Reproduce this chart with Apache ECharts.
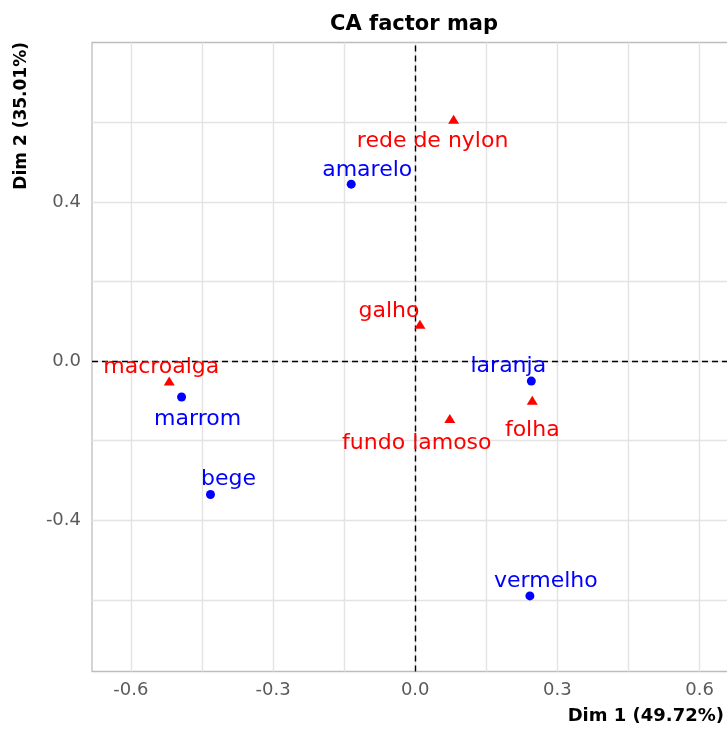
<!DOCTYPE html>
<html><head><meta charset="utf-8">
<script src="https://cdn.jsdelivr.net/npm/echarts@6/dist/echarts.min.js"></script>
<style>html,body{margin:0;padding:0;background:#fff}#main{width:727px;height:729px}</style>
</head><body><div id="main"></div>
<script>
// ---- data ----
const colNames = ['amarelo', 'marrom', 'bege', 'laranja', 'vermelho'];
const colDim1 = [-0.135, -0.493, -0.432, 0.245, 0.242];
const colDim2 = [0.445, -0.090, -0.335, -0.050, -0.590];
const rowNames = ['rede de nylon', 'galho', 'macroalga', 'folha', 'fundo lamoso'];
const rowDim1 = [0.081, 0.010, -0.519, 0.247, 0.073];
const rowDim2 = [0.608, 0.093, -0.050, -0.098, -0.144];
const xTickLabels = [-0.6, -0.3, 0, 0.3, 0.6];
const yTickLabels = [-0.4, 0, 0.4];
const xGridValues = [-0.6, -0.45, -0.3, -0.15, 0, 0.15, 0.3, 0.45, 0.6];
const yGridValues = [-0.6, -0.4, -0.2, 0, 0.2, 0.4, 0.6];
const xRange = [-0.682, 0.66];
const yRange = [-0.78, 0.801];
const chartTitle = 'CA factor map';
const xName = 'Dim 1 (49.72%)';
const yName = 'Dim 2 (35.01%)';

// ---- layout / style ----
const labelOffset = {
  'amarelo': [16, -14], 'marrom': [16, 22], 'bege': [18, -15], 'laranja': [-23, -15],
  'vermelho': [16, -15], 'rede de nylon': [-21, 22], 'galho': [-31, -13],
  'macroalga': [-8, -14], 'folha': [0, 30], 'fundo lamoso': [-33, 25]
};
const labelFont = 'DejaVu Sans';
const tickStyle = { fontFamily: 'DejaVu Sans', fontSize: 18, color: '#5a5a5a' };

const chart = echarts.init(document.getElementById('main'), null, { renderer: 'canvas' });

function pts(names, d1, d2) {
  return names.map((n, i) => ({ name: n, value: [d1[i], d2[i]], label: { offset: labelOffset[n] } }));
}

const option = {
  animation: false,
  backgroundColor: '#ffffff',
  title: {
    text: chartTitle, left: 409, top: 9, textAlign: 'center',
    textStyle: { fontFamily: 'DejaVu Sans', fontWeight: 'bold', fontSize: 21, color: '#000' }
  },
  grid: {
    show: true, left: 92, top: 42.5, width: 636, height: 629,
    borderColor: '#BDBDBD', borderWidth: 1.3, backgroundColor: '#fff',
    containLabel: false, outerBoundsMode: 'none'
  },
  xAxis: {
    type: 'value', min: xRange[0], max: xRange[1],
    axisLine: { show: false }, splitLine: { show: false },
    axisTick: { show: true, customValues: xTickLabels, length: 5, lineStyle: { color: '#BDBDBD', width: 1.3 } },
    axisLabel: Object.assign({ customValues: xTickLabels, margin: 10, formatter: v => v.toFixed(1) }, tickStyle)
  },
  yAxis: {
    type: 'value', min: yRange[0], max: yRange[1],
    axisLine: { show: false }, splitLine: { show: false },
    axisTick: { show: true, customValues: yTickLabels, length: 5, lineStyle: { color: '#BDBDBD', width: 1.3 } },
    axisLabel: Object.assign({ customValues: yTickLabels, margin: 11, formatter: v => v.toFixed(1) }, tickStyle)
  },
  graphic: [
    { type: 'text', x: 724, y: 716, style: { text: xName, align: 'right', verticalAlign: 'middle', font: 'bold 18px "DejaVu Sans"', fill: '#000' } },
    { type: 'text', x: 22, y: 42, rotation: Math.PI / 2, style: { text: yName, align: 'right', verticalAlign: 'middle', font: 'bold 17px "DejaVu Sans"', fill: '#000' } }
  ],
  series: [
    {
      type: 'scatter', name: 'grid', data: [], z: 1, silent: true,
      markLine: {
        silent: true, symbol: ['none', 'none'], label: { show: false },
        lineStyle: { color: '#E3E3E3', width: 1.4, type: 'solid' },
        data: xGridValues.map(v => ({ xAxis: v })).concat(yGridValues.map(v => ({ yAxis: v })))
      }
    },
    {
      type: 'scatter', name: 'zero', data: [], z: 2, silent: true,
      markLine: {
        silent: true, symbol: ['none', 'none'], label: { show: false },
        lineStyle: { color: '#000', width: 1.4, type: [6, 4] },
        data: [{ xAxis: 0 }, { yAxis: 0 }]
      }
    },
    {
      type: 'scatter', name: 'columns', symbol: 'circle', symbolSize: 9, z: 5,
      itemStyle: { color: '#0000FF', opacity: 1 },
      label: { show: true, position: 'inside', formatter: '{b}', color: '#0000FF', opacity: 1, fontFamily: labelFont, fontSize: 22, textBorderWidth: 0 },
      data: pts(colNames, colDim1, colDim2)
    },
    {
      type: 'scatter', name: 'rows', symbol: 'triangle', symbolSize: [11, 9], z: 5,
      itemStyle: { color: '#FF0000', opacity: 1 },
      label: { show: true, position: 'inside', formatter: '{b}', color: '#FF0000', opacity: 1, fontFamily: labelFont, fontSize: 22, textBorderWidth: 0 },
      data: pts(rowNames, rowDim1, rowDim2)
    }
  ]
};
chart.setOption(option);
</script></body></html>
